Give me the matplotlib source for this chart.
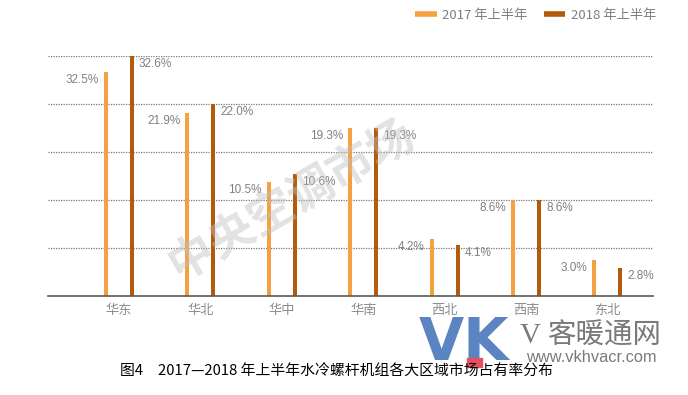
import matplotlib
matplotlib.use("Agg")
import matplotlib.pyplot as plt
from matplotlib.lines import Line2D
from matplotlib.patches import Rectangle

plt.rcParams['font.family'] = ['Noto Sans CJK SC', 'DejaVu Sans']

# data
regions = ['华东', '华北', '华中', '华南', '西北', '西南', '东北']
share_2017 = [32.5, 21.9, 10.5, 19.3, 4.2, 8.6, 3.0]
share_2018 = [32.6, 22.0, 10.6, 19.3, 4.1, 8.6, 2.8]
# bar heights as drawn in the source chart (in grid steps, not to scale with the labels)
drawn_2017 = [4.67, 3.81, 2.38, 3.5, 1.19, 2.0, 0.75]
drawn_2018 = [5.0, 4.0, 2.54, 3.5, 1.06, 2.0, 0.58]
series_names = ['2017 年上半年', '2018 年上半年']

c17 = '#F5A142'
c18 = '#B25B0A'
label_grey = '#808080'
num_font = ['Liberation Sans Narrow', 'Liberation Sans', 'DejaVu Sans']

W, H = 688, 395
fig = plt.figure(figsize=(W / 100, H / 100), dpi=100)
ax = fig.add_axes([48 / W, 1 - 296 / H, (653 - 48) / W, 240 / H])

x = list(range(len(regions)))
off = 0.16
bw = 0.05
ax.bar([i - off for i in x], drawn_2017, width=bw, color=c17, zorder=3)
ax.bar([i + off for i in x], drawn_2018, width=bw, color=c18, zorder=3)

for i in x:
    ax.annotate(f'{share_2017[i]:.1f}%', (i - off, drawn_2017[i]), xytext=(-7, -8),
                textcoords='offset pixels', ha='right', va='center',
                fontsize=8.5, color=label_grey, family=num_font)
    ax.annotate(f'{share_2018[i]:.1f}%', (i + off, drawn_2018[i]), xytext=(7, -8),
                textcoords='offset pixels', ha='left', va='center',
                fontsize=8.5, color=label_grey, family=num_font)

ax.set_xlim(-0.872, 6.56)
ax.set_ylim(0, 5)
ax.set_yticks([])
ax.set_xticks(x)
ax.set_xticklabels(regions, fontsize=9.5, color='#8c8c8c')
ax.tick_params(axis='x', length=0, pad=6)
for y in [1, 2, 3, 4, 5]:
    ax.axhline(y, color='#7a7a7a', lw=0.9, ls=(0, (1, 1)), zorder=1)
for s in ['top', 'right', 'left']:
    ax.spines[s].set_visible(False)
ax.spines['bottom'].set_color('#595959')
ax.spines['bottom'].set_linewidth(1.2)
ax.spines['bottom'].set_zorder(4)

handles = [Line2D([], [], color=c17, lw=4, solid_capstyle='butt'),
           Line2D([], [], color=c18, lw=4, solid_capstyle='butt')]
leg = fig.legend(handles, series_names, ncol=2, loc='center right',
                 bbox_to_anchor=(668 / W, 1 - 15 / H), frameon=False,
                 fontsize=9.5, handlelength=1.6, handletextpad=0.4, columnspacing=1.3,
                 labelcolor='#7f7f7f')

# watermarks
fig.text(292 / W, 1 - 200 / H, '中央空调市场', rotation=30, fontsize=33,
         color='#c0c0c0', alpha=0.45, ha='center', va='center', weight='bold', zorder=5)
fig.text(464 / W, 1 - 344 / H, 'VK', fontsize=42, color='#5B84C2', weight='bold',
         family='DejaVu Sans', ha='center', va='center', zorder=6)
fig.patches.append(Rectangle((467 / W, 1 - 367 / H), 15 / W, 9 / H,
                             transform=fig.transFigure, color='#E4505C', zorder=7))
fig.text(520 / W, 1 - 336 / H, 'V', fontsize=21, color='#7a7a7a',
         family='Liberation Serif', ha='left', va='center', zorder=6)
fig.text(547 / W, 1 - 336 / H, '客暖通网', fontsize=20.5, color='#7a7a7a',
         ha='left', va='center', zorder=6)
fig.text(591 / W, 1 - 358 / H, 'www.vkhvacr.com', fontsize=11.8, color='#7a7a7a',
         family='Liberation Sans', ha='center', va='center', zorder=6)

fig.text(336 / W, 1 - 372 / H, '图4\u30002017—2018 年上半年水冷螺杆机组各大区域市场占有率分布',
         fontsize=10.7, color='black', ha='center', va='center', weight='medium', zorder=8)

fig.savefig('out.png', dpi=100)
